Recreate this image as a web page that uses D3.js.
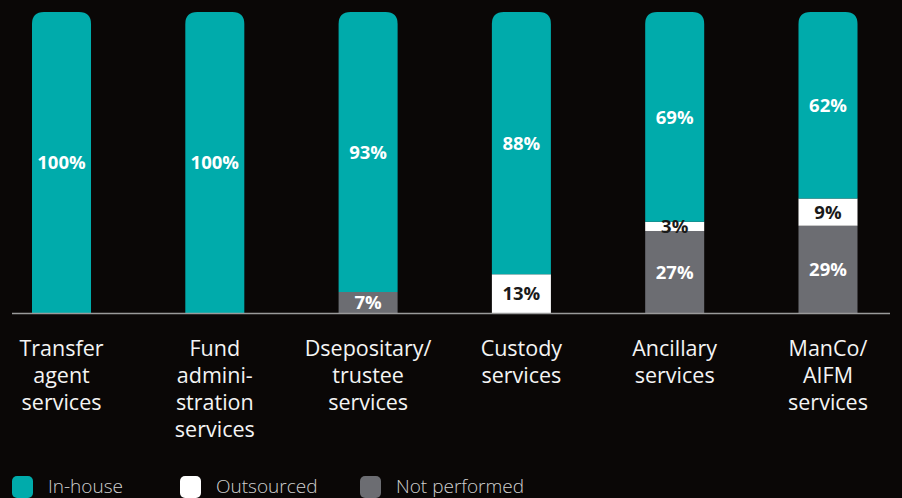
<!DOCTYPE html>
<html>
<head>
<meta charset="utf-8">
<script src="https://cdn.jsdelivr.net/npm/d3@7"></script>
<style>
  html, body { margin: 0; padding: 0; background: #0a0706; }
  svg { display: block; }
</style>
</head>
<body>
<svg id="chart" width="902" height="498"></svg>
<script>
// Service categories (each label split into lines)
const categories = [
  ["Transfer", "agent", "services"],
  ["Fund", "admini-", "stration", "services"],
  ["Dsepositary/", "trustee", "services"],
  ["Custody", "services"],
  ["Ancillary", "services"],
  ["ManCo/", "AIFM", "services"]
];
const notPerformed = [0, 0, 7, 0, 27, 29];
const outsourced   = [0, 0, 0, 13, 3, 9];
const inHouse      = [100, 100, 93, 88, 69, 62];
const seriesNames  = ["Not performed", "Outsourced", "In-house"];
const legendOrder  = ["In-house", "Outsourced", "Not performed"];

const colors = { "In-house": "#00abab", "Outsourced": "#ffffff", "Not performed": "#6c6d72" };
const labelColors = { "In-house": "#ffffff", "Outsourced": "#1a1a1a", "Not performed": "#ffffff" };

const rows = categories.map((c, i) => ({
  key: i,
  "Not performed": notPerformed[i],
  "Outsourced": outsourced[i],
  "In-house": inHouse[i]
}));

const svg = d3.select("#chart");
const baseY = 313, topY = 12;

const x = d3.scaleBand()
  .domain(d3.range(categories.length))
  .range([32, 857.5])
  .paddingInner(0.615)
  .paddingOuter(0);
const y = d3.scaleLinear().domain([0, 1]).range([baseY, topY]);

// each bar is shown as a share of its own total
const stack = d3.stack().keys(seriesNames).offset(d3.stackOffsetExpand)(rows);
const radius = 12;

// path for a segment; topmost segment gets rounded top corners
function segPath(x0, w, y0, y1, rounded) {
  const h = y0 - y1;
  if (!rounded) return `M${x0},${y0}V${y1}H${x0 + w}V${y0}Z`;
  const r = Math.min(radius, h, w / 2);
  return `M${x0},${y0}V${y1 + r}Q${x0},${y1} ${x0 + r},${y1}H${x0 + w - r}Q${x0 + w},${y1} ${x0 + w},${y1 + r}V${y0}Z`;
}

const g = svg.append("g");
stack.forEach((layer, li) => {
  const name = layer.key;
  layer.forEach((d, i) => {
    const v = d.data[name];
    if (v <= 0) return;
    const isTop = li === stack.length - 1;
    const x0 = x(i), w = x.bandwidth();
    g.append("path")
      .attr("d", segPath(x0, w, y(d[0]), y(d[1]), isTop))
      .attr("fill", colors[name]);
  });
});

// value labels drawn above all segments
stack.forEach((layer) => {
  const name = layer.key;
  layer.forEach((d, i) => {
    const v = d.data[name];
    if (v <= 0) return;
    const x0 = x(i), w = x.bandwidth();
    g.append("text")
      .attr("x", x0 + w / 2)
      .attr("y", (y(d[0]) + y(d[1])) / 2)
      .attr("dy", "0.36em")
      .attr("text-anchor", "middle")
      .attr("font-family", "'Open Sans', sans-serif")
      .attr("font-weight", 700)
      .attr("font-size", 18.5)
      .attr("fill", labelColors[name])
      .text(v + "%");
  });
});

// baseline
svg.append("line")
  .attr("x1", 12).attr("x2", 890)
  .attr("y1", baseY + 0.5).attr("y2", baseY + 0.5)
  .attr("stroke", "#9a9a9a").attr("stroke-width", 1.5);

// category labels
categories.forEach((lines, i) => {
  const cx = x(i) + x.bandwidth() / 2;
  const t = svg.append("text")
    .attr("text-anchor", "middle")
    .attr("font-family", "'Open Sans', sans-serif")
    .attr("font-size", 21.5)
    .attr("fill", "#f4f4f4");
  lines.forEach((ln, k) => {
    t.append("tspan").attr("x", cx).attr("y", 356 + k * 27).text(ln);
  });
});

// legend
const legendX = [12, 180, 360];
legendOrder.forEach((name, k) => {
  const lg = svg.append("g").attr("transform", `translate(${legendX[k]},476)`);
  lg.append("rect").attr("width", 21).attr("height", 22).attr("rx", 5).attr("fill", colors[name]);
  lg.append("text")
    .attr("x", 36).attr("y", 17)
    .attr("font-family", "'Open Sans', sans-serif")
    .attr("font-weight", 300)
    .attr("font-size", 19)
    .attr("fill", "#d0d0d0")
    .text(name);
});
</script>
</body>
</html>
